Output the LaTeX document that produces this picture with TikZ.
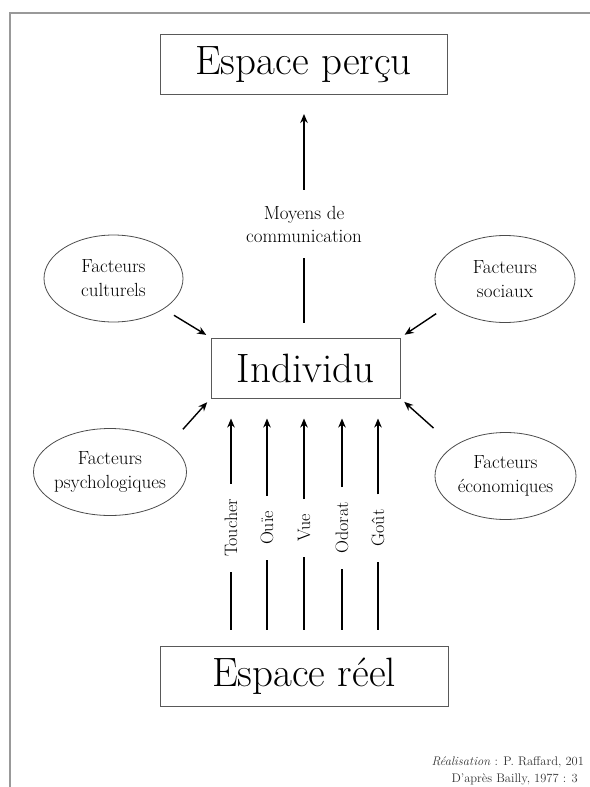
\documentclass[tikz,border=0pt]{standalone}
\usepackage{tikz}
\usetikzlibrary{shapes.geometric,arrows.meta}

\begin{document}
\begin{tikzpicture}[x=1pt, y=-1pt]
  \tikzset{grandcadre/.style={draw=black!65, line width=1pt, minimum height=60pt, inner sep=0pt, font=\fontsize{41}{41}\selectfont},
           facteur/.style={ellipse, draw=black!70, line width=0.8pt, minimum height=87pt, inner xsep=-20pt, inner ysep=0pt, align=center, font=\fontsize{19}{24}\selectfont},
           sens/.style={rotate=90, inner xsep=15pt, inner ysep=0pt, font=\fontsize{18}{18}\selectfont},
           fleche/.style={-{Stealth[length=9pt,width=7.5pt]}, line width=1.4pt},
           trait/.style={line width=1.4pt}}
  \useasboundingbox (0,0) rectangle (589,787);
  \draw[black!40, line width=1.6pt] (10,800) -- (10,13) -- (600,13);

  \node[grandcadre, minimum width=287pt] (percu) at (303.5,64.5) {Espace perçu};
  \node[grandcadre, minimum width=189pt] (indiv) at (305.5,368) {Individu};
  \node[grandcadre, minimum width=288pt] (reel) at (304,676) {Espace réel};

  \node[align=center, inner xsep=0pt, inner ysep=16pt, font=\fontsize{19}{23}\selectfont] (moyens) at (304,224) {Moyens de\\communication};
  \draw[trait, shorten <=15pt] (indiv.north -| moyens) -- (moyens);
  \draw[fleche, shorten >=19pt] (moyens) -- (percu.south -| moyens);

  % les facteurs
  \node[facteur, minimum width=139pt] (cult) at (113.5,278.5) {Facteurs\\culturels};
  \node[facteur, minimum width=140pt] (soc) at (505,279) {Facteurs\\sociaux};
  \node[facteur, minimum width=153pt] (psy) at (110,472) {Facteurs\\psychologiques};
  \node[facteur, minimum width=141pt] (eco) at (505.5,476) {Facteurs\\économiques};
  \draw[fleche, shorten <=12pt, shorten >=5pt] (cult) -- (indiv.north west);
  \draw[fleche, shorten <=15pt, shorten >=5pt] (soc.205) -- (indiv.north east);
  \draw[fleche, shorten <=20pt, shorten >=5pt] (psy.25) -- (indiv.south west);
  \draw[fleche, shorten <=27pt, shorten >=5pt] (eco.150) -- (indiv.south east);

  % les sens
  \foreach \x/\nom/\mot in {231/toucher/Toucher, 267/ouie/Ouïe, 304/vue/Vue, 342/odorat/Odorat, 378/gout/Goût} {
    \node[sens] (\nom) at (\x,528) {\mot};
    \draw[trait, shorten <=16pt] (reel.north -| \nom) -- (\nom);
    \draw[fleche, shorten >=20pt] (\nom) -- (indiv.south -| \nom);
  }

  \node[anchor=base west, text=black!80, font=\fontsize{12.5}{12.5}\selectfont] (realis) at (428,765) {\textit{Réalisation} : P. Raffard, 201};
  \node[anchor=base west, text=black!80, font=\fontsize{12.5}{12.5}\selectfont] (apres) at (448,782) {D'après Bailly, 1977 : 3};
\end{tikzpicture}
\end{document}
